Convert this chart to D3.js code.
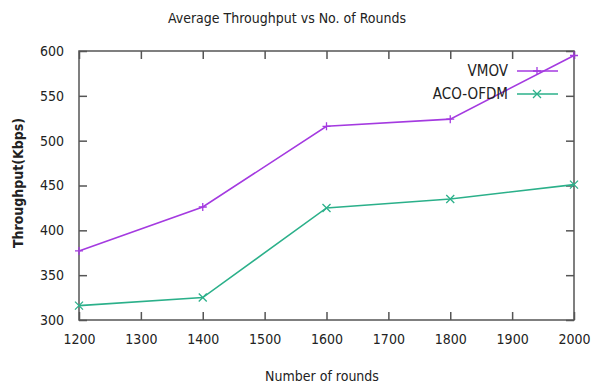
<!DOCTYPE html>
<html>
<head>
<meta charset="utf-8">
<script src="https://cdn.jsdelivr.net/npm/d3@7"></script>
<style>
body{margin:0;background:#fff;}
text{font-family:Tahoma,'DejaVu Sans Condensed','DejaVu Sans',sans-serif;fill:#222;}
</style>
</head>
<body>
<div id="root"></div>
<script>
// data
var rounds=[1200,1400,1600,1800,2000];
var vmov=[377,426,516,524,595];
var acoOfdm=[316,325,425,435,451];
var xTicks=[1200,1300,1400,1500,1600,1700,1800,1900,2000];
var yTicks=[300,350,400,450,500,550,600];

var b={t:51,r:20,b:65,l:79};
var W=594,H=385;
var w=W-b.l-b.r;
var h=H-b.t-b.b;

var svg=d3.select('#root').append('svg')
	.attr('width',W)
	.attr('height',H);

var g=svg.append('g').attr('transform','translate('+b.l+','+b.t+')');

var scaleX=d3.scaleLinear().domain([1200,2000]).range([0,w]);
var scaleY=d3.scaleLinear().domain([300,600]).range([h,0]);

var tl=8;
var axCol='#555';

// ticks, gnuplot style (inward, mirrored)
var xb=g.append('g').attr('transform','translate(0,'+h+')')
	.call(d3.axisBottom(scaleX).tickValues(xTicks).tickSize(-tl).tickPadding(tl+6).tickFormat(d3.format('d')));
var xt=g.append('g')
	.call(d3.axisTop(scaleX).tickValues(xTicks).tickSize(-tl).tickFormat(''));
var yl=g.append('g')
	.call(d3.axisLeft(scaleY).tickValues(yTicks).tickSize(-tl).tickPadding(tl+7).tickFormat(d3.format('d')));
var yr=g.append('g').attr('transform','translate('+w+',0)')
	.call(d3.axisRight(scaleY).tickValues(yTicks).tickSize(-tl).tickFormat(''));

[xb,xt,yl,yr].forEach(function(a){
	a.select('.domain').remove();
	a.selectAll('line').attr('stroke',axCol).attr('stroke-width',1.5);
	a.selectAll('text').style('font-size','14px').attr('fill','#222');
});
xb.selectAll('text').attr('dy','0.71em');

g.append('rect').attr('width',w).attr('height',h)
	.attr('fill','none').attr('stroke',axCol).attr('stroke-width',1.5);

var line=d3.line()
	.x(function(d){return scaleX(d[0])})
	.y(function(d){return scaleY(d[1])});

var series=[
	{name:'VMOV',vals:vmov,color:'#a43ae0',mark:'plus'},
	{name:'ACO-OFDM',vals:acoOfdm,color:'#2bb08a',mark:'cross'}
];

function marker(sel,type,color){
	var s=4;
	var p=type=='plus'?'M'+(-s)+',0H'+s+'M0,'+(-s)+'V'+s
		:'M'+(-s)+','+(-s)+'L'+s+','+s+'M'+(-s)+','+s+'L'+s+','+(-s);
	sel.append('path').attr('d',p).attr('stroke',color).attr('stroke-width',1.3).attr('fill','none');
}

series.forEach(function(s,i){
	var pts=rounds.map(function(r,j){return [r,s.vals[j]]});
	g.append('path').attr('d',line(pts)).attr('fill','none')
		.attr('stroke',s.color).attr('stroke-width',1.6);
	pts.forEach(function(p){
		var m=g.append('g').attr('transform','translate('+scaleX(p[0])+','+scaleY(p[1])+')');
		marker(m,s.mark,s.color);
	});
	// legend
	var ly=20+i*23;
	var lg=g.append('g').attr('transform','translate(0,'+ly+')');
	lg.append('text').attr('x',429).attr('y',0).attr('dy','0.35em')
		.attr('text-anchor','end').style('font-size','15px').text(s.name);
	lg.append('line').attr('x1',438).attr('x2',479).attr('stroke',s.color).attr('stroke-width',1.6);
	var mm=lg.append('g').attr('transform','translate(458,0)');
	marker(mm,s.mark,s.color);
});

svg.append('text').attr('x',287).attr('y',18).attr('dy','0.35em')
	.attr('text-anchor','middle').style('font-size','14px').text('Average Throughput vs No. of Rounds');
svg.append('text').attr('x',322).attr('y',376).attr('dy','0.35em')
	.attr('text-anchor','middle').style('font-size','14px').text('Number of rounds');
svg.append('text').attr('transform','translate(18,183) rotate(-90)').attr('dy','0.35em')
	.attr('text-anchor','middle').style('font-size','14px').style('font-weight','bold').text('Throughput(Kbps)');
</script>
</body>
</html>
